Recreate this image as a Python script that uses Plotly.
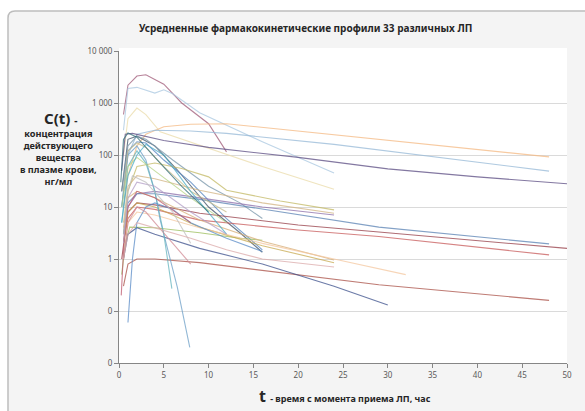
import plotly.graph_objects as go

# Averaged pharmacokinetic profiles: time (h) and concentration (ng/ml) per drug
t_01 = [0.5, 1, 2, 3, 5, 7, 10, 12]
c_01 = [600, 2200, 3300, 3500, 2300, 1000, 400, 115]
t_02 = [0.5, 1, 2, 4, 5, 6, 9, 16, 24]
c_02 = [300, 1900, 2000, 1550, 1800, 1500, 650, 180, 45]
t_03 = [0.5, 1, 2, 3, 4.6, 9, 16, 24]
c_03 = [100, 500, 800, 600, 280, 155, 60, 22]
t_04 = [0.5, 1, 2, 3, 5, 8, 12, 24, 36, 48]
c_04 = [10, 40, 150, 250, 350, 390, 400, 245, 150, 92]
t_05 = [0.5, 1, 2, 4, 8, 12, 24, 36, 48]
c_05 = [20, 100, 250, 300, 290, 260, 160, 90, 49]
t_06 = [0.3, 0.7, 1.5, 5, 10, 20, 30, 40, 50]
c_06 = [50, 250, 260, 190, 140, 90, 54, 38, 28]
t_07 = [0.3, 1, 2, 4, 6.5, 10, 13.5, 16]
c_07 = [20, 200, 230, 150, 52, 10, 3.2, 1.35]
t_08 = [0.3, 1, 2, 3, 5, 8, 12, 16]
c_08 = [10, 120, 180, 170, 80, 30, 6, 1.5]
t_09 = [0.3, 1, 2, 3, 6, 10, 13.5, 16]
c_09 = [20, 150, 230, 200, 80, 25, 12, 6]
t_10 = [0.5, 1, 2, 4, 7, 10, 12, 18, 24]
c_10 = [3, 20, 60, 70, 55, 38, 21, 13, 8.8]
t_11 = [0.5, 1, 2, 4, 9, 16, 24]
c_11 = [5, 25, 40, 35, 21, 12, 7.6]
t_12 = [0.5, 1, 2, 4, 9, 16, 24]
c_12 = [2, 10, 18, 20, 15, 10, 7]
t_13 = [0.5, 1, 2, 4, 9, 20, 29, 48]
c_13 = [3, 12, 18, 18, 14, 7, 4.1, 1.95]
t_14 = [0.3, 1, 2, 4, 9, 20, 29, 50]
c_14 = [1, 8, 12, 11, 7.6, 4.5, 3.3, 1.6]
t_15 = [0.5, 1, 2, 4, 9, 20, 29, 48]
c_15 = [2, 6, 10, 9, 5.6, 3.6, 2.7, 1.2]
t_16 = [0.3, 0.7, 1.2, 4, 9, 13.5, 16]
c_16 = [0.5, 2, 4.1, 4, 3.2, 2.5, 2.3]
t_17 = [0.5, 1, 2, 4, 9, 16, 24]
c_17 = [4, 15, 20, 15, 5.6, 2.2, 0.96]
t_18 = [0.5, 1, 2, 4, 9, 16, 24]
c_18 = [2, 8, 12, 10, 4.1, 1.8, 0.85]
t_19 = [0.5, 1, 2, 4, 9, 16, 24, 32]
c_19 = [1, 5, 8, 7, 4, 2, 1, 0.5]
t_20 = [0.5, 1, 2, 4, 9, 20, 29, 48]
c_20 = [0.3, 0.8, 1.0, 1.0, 0.85, 0.5, 0.32, 0.16]
t_21 = [0.5, 1, 2, 4, 9, 16, 24, 30]
c_21 = [1, 3, 4, 3, 1.6, 0.8, 0.3, 0.13]
t_22 = [0.3, 1, 2, 3, 4, 4.6, 6.5, 7.9]
c_22 = [10, 100, 150, 80, 20, 5.6, 0.29, 0.02]
t_23 = [0.3, 1, 2, 3, 4, 5, 5.9]
c_23 = [5, 60, 120, 70, 20, 3, 0.27]
t_24 = [1, 1.5, 2, 3, 4, 6, 8, 12, 16]
c_24 = [0.06, 1, 5, 10, 12, 9, 5, 2.5, 1.4]
t_25 = [0.25, 0.6, 1, 2, 4, 8]
c_25 = [0.2, 3, 10, 20, 15, 5]
t_26 = [0.5, 1, 2, 3, 4, 6, 8]
c_26 = [1, 5, 10, 8, 5, 2, 0.8]
t_27 = [0.3, 1, 2, 4, 8, 12]
c_27 = [10, 60, 90, 50, 15, 5]
t_28 = [0.5, 1, 2, 3, 5, 8, 12]
c_28 = [20, 120, 170, 140, 60, 20, 8]
t_29 = [0.3, 1, 2, 3, 5, 8, 12]
c_29 = [5, 40, 100, 160, 100, 20, 3]
t_30 = [0.5, 1, 2, 4, 8, 12]
c_30 = [2, 15, 30, 25, 8, 3]
t_31 = [0.5, 1, 1.5, 3, 6, 8]
c_31 = [3, 20, 40, 30, 8, 2]
t_32 = [0.2, 0.5, 1, 2, 4, 7, 10]
c_32 = [30, 200, 265, 220, 90, 25, 8]
t_33 = [0.5, 1, 2, 4, 8, 12, 16, 24]
c_33 = [1, 3, 5, 4, 2.5, 1.5, 1, 0.7]

times = [t_01, t_02, t_03, t_04, t_05, t_06, t_07, t_08, t_09, t_10, t_11,
         t_12, t_13, t_14, t_15, t_16, t_17, t_18, t_19, t_20, t_21, t_22,
         t_23, t_24, t_25, t_26, t_27, t_28, t_29, t_30, t_31, t_32, t_33]
concs = [c_01, c_02, c_03, c_04, c_05, c_06, c_07, c_08, c_09, c_10, c_11,
         c_12, c_13, c_14, c_15, c_16, c_17, c_18, c_19, c_20, c_21, c_22,
         c_23, c_24, c_25, c_26, c_27, c_28, c_29, c_30, c_31, c_32, c_33]

y_tick_vals = [10000, 1000, 100, 10, 1, 0.1, 0.01]
y_tick_text = ["10 000", "1 000", "100", "10", "1", "0", "0"]
x_tick_vals = [0, 5, 10, 15, 20, 25, 30, 35, 40, 45, 50]

line_colors = [
    "rgb(160,90,120)", "rgb(170,200,225)", "rgb(235,220,170)", "rgb(245,185,130)",
    "rgb(150,185,215)", "rgb(90,75,130)", "rgb(60,80,100)", "rgb(80,130,190)",
    "rgb(120,150,170)", "rgb(195,185,100)", "rgb(210,180,130)", "rgb(140,110,170)",
    "rgb(90,130,180)", "rgb(150,60,70)", "rgb(200,90,90)", "rgb(155,190,90)",
    "rgb(215,175,120)", "rgb(200,170,80)", "rgb(245,200,160)", "rgb(170,80,70)",
    "rgb(60,80,140)", "rgb(110,160,200)", "rgb(100,180,190)", "rgb(90,140,200)",
    "rgb(190,90,110)", "rgb(210,140,150)", "rgb(180,210,130)", "rgb(200,190,140)",
    "rgb(75,172,198)", "rgb(180,160,200)", "rgb(190,190,190)", "rgb(50,110,120)",
    "rgb(220,170,170)",
]

W, H = 585, 411
L, R, T, B = 119, 18, 51, 48
PW, PH = W - L - R, H - T - B


def xp(px):
    return (px - L) / PW


def yp(py):
    return (H - B - py) / PH


fig = go.Figure()
for tt, cc, col in zip(times, concs, line_colors):
    fig.add_trace(go.Scatter(x=tt, y=cc, mode="lines",
                             line=dict(color=col, width=1.1), opacity=0.75,
                             showlegend=False, hoverinfo="skip"))

# chart area with rounded top-left corner, and white plot area
x0, x1 = xp(8), xp(600)
y0, y1 = yp(420), yp(11)
rx, ry = 7 / PW, 7 / PH
area_path = (f"M {x0},{y0} L {x0},{y1 - ry} Q {x0},{y1} {x0 + rx},{y1} "
             f"L {x1},{y1} L {x1},{y0} Z")
shapes = [
    dict(type="path", xref="paper", yref="paper", path=area_path,
         fillcolor="#f4f4f4", line=dict(color="#bdbdbd", width=1.5), layer="below"),
    dict(type="rect", xref="paper", yref="paper", x0=xp(119), x1=xp(567),
         y0=yp(363), y1=yp(48), fillcolor="white", line=dict(width=0), layer="below"),
]


def note(text, px, py, size):
    return dict(text=text, x=xp(px), y=yp(py), xref="paper", yref="paper",
                xanchor="center", yanchor="middle", showarrow=False,
                font=dict(size=size, color="#262626"))


ylab_lines = ["концентрация", "действующего", "вещества", "в плазме крови,", "нг/мл"]
annotations = [
    note("<b>Усредненные фармакокинетические профили 33 различных ЛП</b>", 305, 28, 10),
    note("<b>C(t)</b> <b style='font-size:10px'>-</b>", 60, 118, 15),
    note("<br>".join(f"<b>{s}</b>" for s in ylab_lines), 58, 157, 9.2),
    note("<b>t</b> <b style='font-size:9px'>- время с момента приема ЛП, час</b>",
         345, 396, 16),
]

fig.update_layout(
    width=W, height=H,
    margin=dict(l=L, r=R, t=T, b=B),
    paper_bgcolor="white", plot_bgcolor="rgba(0,0,0,0)",
    font=dict(family="Noto Sans, DejaVu Sans, sans-serif", color="#595959"),
    shapes=shapes, annotations=annotations,
    xaxis=dict(range=[0, 50], tickvals=x_tick_vals, showgrid=False, zeroline=False,
               showline=True, linecolor="#868686", linewidth=1,
               ticks="outside", ticklen=4, tickcolor="#868686",
               tickfont=dict(size=8, color="#595959")),
    yaxis=dict(type="log", range=[-2, 4], tickvals=y_tick_vals, ticktext=y_tick_text,
               showgrid=True, gridcolor="#dadada", gridwidth=1, zeroline=False,
               showline=True, linecolor="#868686", linewidth=1,
               ticks="outside", ticklen=4, tickcolor="#868686",
               tickfont=dict(size=8, color="#595959")),
)

fig.write_html("out.html")
